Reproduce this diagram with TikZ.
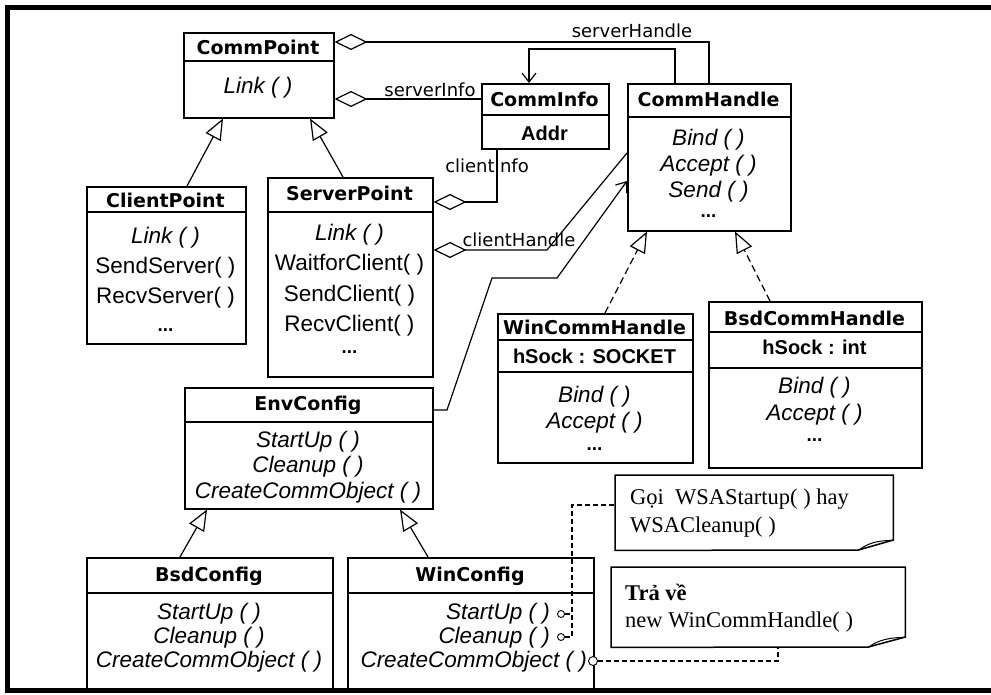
\documentclass[tikz,border=0pt]{standalone}
\usepackage{fontspec}
\setmainfont{Liberation Sans}
\newfontfamily\dvfont{DejaVu Sans}
\newfontfamily\serfont{Liberation Serif}
\usetikzlibrary{arrows.meta}
\newcommand\umlbox[5]{\node[box, minimum width={(#4-#2)*1pt}, minimum height={(#5-#3)*1pt}] (#1) at (#2,#3) {};}
\newcommand\umldiv[2]{\draw[boxline] (#1.west |- 0,#2) -- (#1.east |- 0,#2);}
\begin{document}
\begin{tikzpicture}[x=1pt,y=-1pt,
  boxline/.style={line width=1.5pt},
  box/.style={draw, line width=1.5pt, inner sep=0pt, anchor=north west},
  cname/.style={inner sep=0pt, font=\dvfont\bfseries\fontsize{19}{21}\selectfont},
  attr/.style={inner sep=0pt, font=\bfseries\fontsize{20}{22}\selectfont},
  meth/.style={inner sep=0pt, font=\fontsize{22.5}{25}\selectfont},
  imeth/.style={inner sep=0pt, font=\itshape\fontsize{22.5}{25}\selectfont},
  dots/.style={inner sep=0pt, font=\bfseries\fontsize{19}{21}\selectfont},
  role/.style={inner sep=0pt, font=\dvfont\fontsize{18}{20}\selectfont},
  notetext/.style={inner sep=0pt, anchor=west, font=\serfont\fontsize{22.5}{25}\selectfont},
  gen/.style={line width=1.2pt, -{Triangle[length=21pt,width=17pt,fill=white]}},
  real/.style={gen, dash pattern=on 7pt off 4pt},
  agg/.style={line width=1.2pt, {Diamond[length=33pt,width=16pt,fill=white]}-},
  nav/.style={line width=1.2pt, -{Straight Barb[length=9pt,width=14pt]}},
  anchorline/.style={line width=1.1pt, dash pattern=on 5pt off 3pt},
  pin/.style={circle, draw, fill=white, line width=0.9pt, inner sep=0pt},
  notebox/.style={inner sep=0pt, anchor=north west},
]
\fill[white] (0,0) rectangle (991,694);
\useasboundingbox (0,0) rectangle (991,694);
% frame
\draw[line width=5pt, line cap=rect] (991,7.5) -- (7,7.5) -- (7,690.5) -- (991,690.5);

% CommPoint
\umlbox{commpoint}{183}{32}{333}{117}
\umldiv{commpoint}{61}
\node[cname] (commpoint-n) at (258,47) {CommPoint};
\node[imeth] (commpoint-m1) at (258,88) {Link ( )};

% CommInfo
\umlbox{comminfo}{481}{83}{608}{148}
\umldiv{comminfo}{115}
\node[cname] (comminfo-n) at (544.5,99) {CommInfo};
\node[attr] (comminfo-a1) at (544.5,133) {Addr};

% CommHandle
\umlbox{commhandle}{627}{83}{790}{230}
\umldiv{commhandle}{117}
\node[cname] (commhandle-n) at (708.5,99) {CommHandle};
\node[imeth] (commhandle-m1) at (708.5,140) {Bind ( )};
\node[imeth] (commhandle-m2) at (708.5,166) {Accept ( )};
\node[imeth] (commhandle-m3) at (708.5,192) {Send ( )};
\node[dots] (commhandle-m4) at (708.5,216) {...};

% ClientPoint
\umlbox{clientpoint}{86}{186}{245}{343}
\umldiv{clientpoint}{212}
\node[cname] (clientpoint-n) at (165.5,200) {ClientPoint};
\node[imeth] (clientpoint-m1) at (165.5,238) {Link ( )};
\node[meth] (clientpoint-m2) at (165.5,268) {SendServer( )};
\node[meth] (clientpoint-m3) at (165.5,298) {RecvServer( )};
\node[dots] (clientpoint-m4) at (165.5,330) {...};

% ServerPoint
\umlbox{serverpoint}{267}{177}{432}{376}
\umldiv{serverpoint}{212}
\node[cname] (serverpoint-n) at (349.5,193) {ServerPoint};
\node[imeth] (serverpoint-m1) at (349.5,235) {Link ( )};
\node[meth] (serverpoint-m2) at (349.5,265) {WaitforClient( )};
\node[meth] (serverpoint-m3) at (349.5,296) {SendClient( )};
\node[meth] (serverpoint-m4) at (349.5,326) {RecvClient( )};
\node[dots] (serverpoint-m5) at (349.5,352) {...};

% WinCommHandle
\umlbox{wincomm}{497}{313}{692}{462}
\umldiv{wincomm}{340}
\umldiv{wincomm}{372}
\node[cname] (wincomm-n) at (594.5,327) {WinCommHandle};
\node[attr] (wincomm-a1) at (594.5,356) {hSock : SOCKET};
\node[imeth] (wincomm-m1) at (594.5,397) {Bind ( )};
\node[imeth] (wincomm-m2) at (594.5,423) {Accept ( )};
\node[dots] (wincomm-m3) at (594.5,449) {...};

% BsdCommHandle
\umlbox{bsdcomm}{708}{301}{921}{467}
\umldiv{bsdcomm}{332}
\umldiv{bsdcomm}{368}
\node[cname] (bsdcomm-n) at (814.5,318) {BsdCommHandle};
\node[attr] (bsdcomm-a1) at (814.5,347) {hSock : int};
\node[imeth] (bsdcomm-m1) at (814.5,388) {Bind ( )};
\node[imeth] (bsdcomm-m2) at (814.5,415) {Accept ( )};
\node[dots] (bsdcomm-m3) at (814.5,440) {...};

% EnvConfig
\umlbox{envconfig}{184}{387}{432}{508}
\umldiv{envconfig}{422}
\node[cname] (envconfig-n) at (308,405) {EnvConfig};
\node[imeth] (envconfig-m1) at (308,442) {StartUp ( )};
\node[imeth] (envconfig-m2) at (308,467) {Cleanup ( )};
\node[imeth] (envconfig-m3) at (308,493) {CreateCommObject ( )};

% BsdConfig
\umlbox{bsdconfig}{86}{557}{332}{688}
\umldiv{bsdconfig}{593}
\node[cname] (bsdconfig-n) at (209,576) {BsdConfig};
\node[imeth] (bsdconfig-m1) at (209,614) {StartUp ( )};
\node[imeth] (bsdconfig-m2) at (209,638) {Cleanup ( )};
\node[imeth] (bsdconfig-m3) at (209,662) {CreateCommObject ( )};

% WinConfig
\umlbox{winconfig}{347}{557}{593}{688}
\umldiv{winconfig}{593}
\node[cname] (winconfig-n) at (470,576) {WinConfig};
\node[imeth, anchor=east] (winconfig-m1) at (550,614) {StartUp ( )};
\node[imeth, anchor=east] (winconfig-m2) at (550,638) {Cleanup ( )};
\node[imeth, anchor=east] (winconfig-m3) at (587,662) {CreateCommObject ( )};

% notes
\node[notebox, minimum width=278pt, minimum height=75pt] (note1) at (615,475) {};
\draw[boxline] (note1.north west) -- (note1.north east) -- ++(0,65) -- ++(-35,10) -- (note1.south west) -- cycle;
\draw[line width=1pt] ([xshift=-35pt]note1.south east) .. controls ++(10,-8) and ++(-14,0) .. ([yshift=10pt]note1.south east);
\node[notetext] (note1-t1) at (630,499) {Gọi ~WSAStartup( ) hay};
\node[notetext] (note1-t2) at (630,527) {WSACleanup( )};

\node[notebox, minimum width=294pt, minimum height=80pt] (note2) at (611,567) {};
\draw[boxline] (note2.north west) -- (note2.north east) -- ++(0,70) -- ++(-37,10) -- (note2.south west) -- cycle;
\draw[line width=1pt] ([xshift=-37pt]note2.south east) .. controls ++(10,-8) and ++(-14,0) .. ([yshift=10pt]note2.south east);
\node[notetext] (note2-t1) at (625,592) {\textbf{Trả về}};
\node[notetext] (note2-t2) at (625,622) {new WinCommHandle( )};

% generalizations
\draw[gen] (clientpoint.north -| 187,0) -- (commpoint.south -| 223,0);
\draw[gen] (serverpoint.north -| 343,0) -- (commpoint.south -| 310,0);
\draw[gen] (bsdconfig.north -| 180,0) -- (envconfig.south -| 207,0);
\draw[gen] (winconfig.north -| 428,0) -- (envconfig.south -| 400,0);
\draw[real] (wincomm.north -| 605,0) -- (commhandle.south -| 647,0);
\draw[real] (bsdcomm.north -| 770,0) -- (commhandle.south -| 735,0);

% associations
\draw[agg] (commpoint.east |- 0,42) -| (commhandle.north -| 709,0);
\node[role] (lbl-serverhandle) at (632,31) {serverHandle};
\draw[agg] (commpoint.east |- 0,99) -- (comminfo.west |- 0,99);
\node[role] (lbl-serverinfo) at (430,90) {serverInfo};
\draw[agg] (serverpoint.east |- 0,202) -| (comminfo.south -| 497,0);
\node[role] (lbl-clientinfo) at (487,166) {clientInfo};
\draw[agg] (serverpoint.east |- 0,250) -- (547,250) -- (commhandle.west |- 0,153);
\node[role] (lbl-clienthandle) at (519,240) {clientHandle};
\coordinate (hb) at (529,49);
\draw[nav] (commhandle.north -| 675,0) |- (hb) -- (comminfo.north -| hb);
\draw[nav] (envconfig.east |- 0,410) -- (447,410) -- (492,278) -- (557,278) -- (commhandle.west |- 0,181);

% note anchors
\node[pin, minimum size=7pt] (c1) at (561,614) {};
\node[pin, minimum size=7pt] (c2) at (561,637) {};
\node[pin, minimum size=9pt] (c3) at (593,661) {};
\coordinate (j1) at (572,505);
\draw[anchorline] (c2.east) -- (c2.east -| j1) -- (j1) -- (note1.west |- j1);
\draw[anchorline] (c1.east) -- (c1.east -| j1);
\draw[anchorline] (c3.east) -| (note2.south -| 778,0);
\end{tikzpicture}
\end{document}
